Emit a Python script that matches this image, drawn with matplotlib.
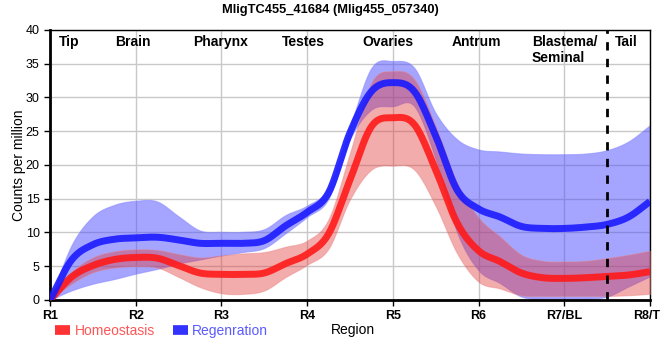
import numpy as np
import matplotlib
matplotlib.use("Agg")
import matplotlib.pyplot as plt
from matplotlib.lines import Line2D

plt.rcParams['font.family'] = ['Liberation Sans', 'DejaVu Sans']

# values read at every quarter region (R1, R1.25, ... R8)
pos = [1, 1.25, 1.5, 1.75, 2, 2.25, 2.5, 2.75, 3, 3.25, 3.5, 3.75, 4, 4.25, 4.5,
	4.75, 5, 5.25, 5.5, 5.75, 6, 6.25, 6.5, 6.75, 7, 7.25, 7.5, 7.75, 8]
homeo_mean = [0, 3.4, 5.1, 6.0, 6.3, 6.2, 5.1, 4.0, 3.8, 3.8, 4.0, 5.4, 6.8, 9.8, 17.8,
	25.7, 27.0, 26.0, 19.3, 11.4, 7.3, 5.7, 4.0, 3.3, 3.2, 3.3, 3.5, 3.7, 4.2]
homeo_hi = [0, 4.1, 6.3, 7.2, 7.5, 7.4, 6.8, 6.3, 6.6, 6.9, 7.1, 7.9, 8.8, 12.0, 21.8,
	32.2, 33.9, 32.7, 25.7, 17.3, 12.2, 9.4, 6.7, 5.8, 5.7, 5.8, 6.2, 6.7, 7.3]
homeo_lo = [0, 2.4, 4.1, 4.8, 5.0, 4.8, 3.4, 1.9, 1.0, 0.9, 1.4, 3.4, 5.2, 7.6, 14.9,
	19.3, 19.9, 19.3, 13.9, 6.9, 2.7, 1.7, 0.7, 0.6, 0.6, 0.6, 0.6, 0.7, 0.9]
regen_mean = [0, 5.9, 8.2, 9.0, 9.2, 9.3, 8.9, 8.4, 8.4, 8.4, 8.8, 11.0, 13.0, 15.9, 24.8,
	30.9, 32.2, 30.9, 24.3, 16.3, 13.5, 12.3, 10.9, 10.6, 10.6, 10.8, 11.2, 12.3, 14.6]
regen_hi = [0, 8.1, 12.4, 14.1, 14.7, 14.6, 12.4, 10.3, 10.1, 10.1, 10.5, 12.6, 14.0, 16.7, 25.7,
	34.4, 35.4, 34.4, 27.7, 23.8, 22.3, 22.0, 21.7, 21.6, 21.6, 21.7, 22.2, 23.5, 25.9]
regen_lo = [0, 1.4, 2.4, 3.1, 3.9, 4.6, 5.4, 6.0, 6.6, 7.1, 7.7, 9.9, 12.3, 15.0, 23.8,
	28.2, 28.7, 28.7, 20.8, 10.0, 4.4, 2.5, 0.5, 0.2, 0.2, 0.2, 0.5, 2.0, 3.5]

tick_labels = ['R1', 'R2', 'R3', 'R4', 'R5', 'R6', 'R7/BL', 'R8/TL']
regions = ['Tip', 'Brain', 'Pharynx', 'Testes', 'Ovaries', 'Antrum', 'Blastema/\nSeminal', 'Tail']
region_pos = [1.22, 1.97, 2.99, 3.96, 4.94, 5.98, 6.62, 7.72]
tail_start = 7.5


def smooth(x, y, n=600):
	# catmull-rom curve through the read points
	x = np.asarray(x, float)
	y = np.asarray(y, float)
	h = np.diff(x)
	m = np.gradient(y, x)
	xs = np.linspace(x[0], x[-1], n)
	idx = np.clip(np.searchsorted(x, xs) - 1, 0, len(x) - 2)
	t = (xs - x[idx]) / h[idx]
	h00 = 2 * t**3 - 3 * t**2 + 1
	h10 = t**3 - 2 * t**2 + t
	h01 = -2 * t**3 + 3 * t**2
	h11 = t**3 - t**2
	ys = h00 * y[idx] + h10 * h[idx] * m[idx] + h01 * y[idx + 1] + h11 * h[idx] * m[idx + 1]
	return xs, np.clip(ys, 0, None)


fig = plt.figure(figsize=(6.6, 3.6), dpi=100)
ax = fig.add_axes([0.0758, 0.1667, 0.909, 0.75])

red = '#ff1a1a'
blue = '#1a1aff'

xs, lo = smooth(pos, regen_lo)
_, hi = smooth(pos, regen_hi)
ax.fill_between(xs, lo, hi, color='#4d4dff', alpha=0.5, lw=0.8, edgecolor='#8080ff', zorder=2)
xs, lo = smooth(pos, homeo_lo)
_, hi = smooth(pos, homeo_hi)
ax.fill_between(xs, lo, hi, color='#e33a3a', alpha=0.42, lw=0.8, edgecolor='#e88080', zorder=3)

xs, ys = smooth(pos, homeo_mean)
ax.plot(xs, ys, color=red, lw=5, alpha=0.9, solid_capstyle='butt', zorder=4)
xs, ys = smooth(pos, regen_mean)
ax.plot(xs, ys, color=blue, lw=5, alpha=0.9, solid_capstyle='butt', zorder=4)

ax.axvline(tail_start, color='black', lw=2, ls=(0, (3, 3)), zorder=5)

for name, p in zip(regions, region_pos):
	ha = 'left' if '\n' in name else 'center'
	ax.text(p, 39.3, name, ha=ha, va='top', fontsize=10, fontweight='bold', zorder=6)

ax.set_xlim(1, 8)
ax.set_ylim(0, 40)
ax.set_xticks(range(1, 9))
ax.set_xticklabels(tick_labels, fontsize=9, fontweight='bold')
ax.set_yticks(range(0, 41, 5))
ax.tick_params(axis='y', labelsize=9, length=4, width=1)
ax.tick_params(axis='x', length=4, width=1)
ax.grid(True, color='#c8c8c8', lw=1, zorder=0)
ax.set_axisbelow(True)
ax.spines['left'].set_linewidth(2)
ax.spines['bottom'].set_linewidth(2)
ax.spines['top'].set_linewidth(1)
ax.spines['right'].set_linewidth(1)

ax.set_ylabel('Counts per million', fontsize=10)
ax.yaxis.set_label_coords(-0.04, 0.5)
fig.text(0.501, 0.083, 'Region', fontsize=10, ha='left', va='center')
fig.suptitle('MligTC455_41684 (Mlig455_057340)', fontsize=9.3, fontweight='bold', y=0.99)

handles = [Line2D([], [], color='#ff3333', lw=7, solid_capstyle='butt'),
	Line2D([], [], color='#3333ff', lw=7, solid_capstyle='butt')]
leg = fig.legend(handles, ['Homeostasis', 'Regenration'], loc='center left',
	bbox_to_anchor=(55 / 660, 0.0805), ncol=2, frameon=False, borderpad=0, borderaxespad=0,
	fontsize=10, handlelength=1.1, handletextpad=0.3, columnspacing=1.3)
leg.get_texts()[0].set_color('#ff5555')
leg.get_texts()[1].set_color('#5a5aff')

fig.savefig('out.png', dpi=100)
